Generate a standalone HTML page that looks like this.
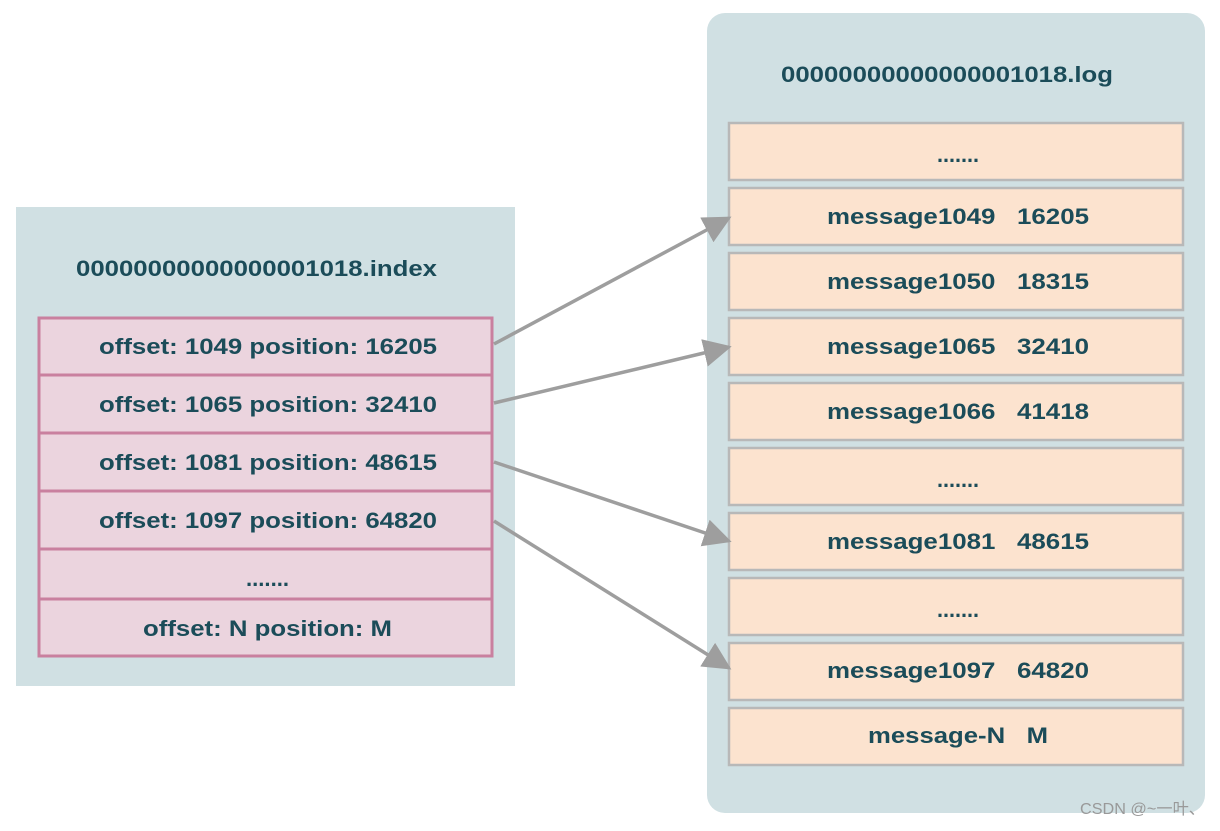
<!DOCTYPE html>
<html><head><meta charset="utf-8"><style>
body{margin:0;background:#fff}
text{font-family:"Liberation Sans",sans-serif;font-weight:bold;fill:#1b4c59;font-size:22px}
</style></head><body>
<svg width="1220" height="826" xmlns="http://www.w3.org/2000/svg">
<defs>
<marker id="b" viewBox="0 0 10 10" refX="9" refY="5" markerWidth="28" markerHeight="28" orient="auto" markerUnits="userSpaceOnUse"><path d="M0,0 L10,5 L0,10 z" fill="#9e9e9e"/></marker></defs>
<rect x="16" y="207" width="499" height="479" fill="#d0e0e3"/>
<text x="76" y="276" textLength="361" lengthAdjust="spacingAndGlyphs">00000000000000001018.index</text>
<g fill="#ebd4de" stroke="#c9809f" stroke-width="3">
<rect x="39" y="318" width="453" height="57"/>
<rect x="39" y="375" width="453" height="58"/>
<rect x="39" y="433" width="453" height="58"/>
<rect x="39" y="491" width="453" height="58"/>
<rect x="39" y="549" width="453" height="50"/>
<rect x="39" y="599" width="453" height="57"/>
</g>
<g>
<text x="99" y="354" textLength="338" lengthAdjust="spacingAndGlyphs">offset: 1049 position: 16205</text>
<text x="99" y="412" textLength="338" lengthAdjust="spacingAndGlyphs">offset: 1065 position: 32410</text>
<text x="99" y="470" textLength="338" lengthAdjust="spacingAndGlyphs">offset: 1081 position: 48615</text>
<text x="99" y="528" textLength="338" lengthAdjust="spacingAndGlyphs">offset: 1097 position: 64820</text>
<text x="246" y="586" textLength="43" lengthAdjust="spacingAndGlyphs">.......</text>
<text x="143" y="636" textLength="249" lengthAdjust="spacingAndGlyphs">offset: N position: M</text>
</g>
<rect x="707" y="13" width="498" height="800" rx="18" fill="#d0e0e3"/>
<text x="781" y="82" textLength="332" lengthAdjust="spacingAndGlyphs">00000000000000001018.log</text>
<g fill="#fce3cf" stroke="#b8b8b8" stroke-width="2.5">
<rect x="729" y="123" width="454" height="57"/>
<rect x="729" y="188" width="454" height="57"/>
<rect x="729" y="253" width="454" height="57"/>
<rect x="729" y="318" width="454" height="57"/>
<rect x="729" y="383" width="454" height="57"/>
<rect x="729" y="448" width="454" height="57"/>
<rect x="729" y="513" width="454" height="57"/>
<rect x="729" y="578" width="454" height="57"/>
<rect x="729" y="643" width="454" height="57"/>
<rect x="729" y="708" width="454" height="57"/>
</g>
<text x="937" y="162" textLength="42" lengthAdjust="spacingAndGlyphs">.......</text>
<text x="827" y="224" textLength="262" lengthAdjust="spacingAndGlyphs">message1049 &#160; 16205</text>
<text x="827" y="289" textLength="262" lengthAdjust="spacingAndGlyphs">message1050 &#160; 18315</text>
<text x="827" y="354" textLength="262" lengthAdjust="spacingAndGlyphs">message1065 &#160; 32410</text>
<text x="827" y="419" textLength="262" lengthAdjust="spacingAndGlyphs">message1066 &#160; 41418</text>
<text x="937" y="487" textLength="42" lengthAdjust="spacingAndGlyphs">.......</text>
<text x="827" y="549" textLength="262" lengthAdjust="spacingAndGlyphs">message1081 &#160; 48615</text>
<text x="937" y="617" textLength="42" lengthAdjust="spacingAndGlyphs">.......</text>
<text x="827" y="678" textLength="262" lengthAdjust="spacingAndGlyphs">message1097 &#160; 64820</text>
<text x="868" y="743" textLength="180" lengthAdjust="spacingAndGlyphs">message-N &#160; M</text>
<g stroke="#9e9e9e" stroke-width="3.5" marker-end="url(#b)">
<line x1="494" y1="344" x2="729" y2="218"/>
<line x1="494" y1="403" x2="729" y2="347"/>
<line x1="494" y1="462" x2="729" y2="541"/>
<line x1="494" y1="521" x2="729" y2="668"/>
</g>
<text x="1080" y="814" textLength="125" lengthAdjust="spacingAndGlyphs" style="font-weight:normal;font-size:16px;fill:#999;font-family:'Liberation Sans','Noto Sans CJK SC',sans-serif">CSDN @~一叶、</text>
</svg>
</body></html>
